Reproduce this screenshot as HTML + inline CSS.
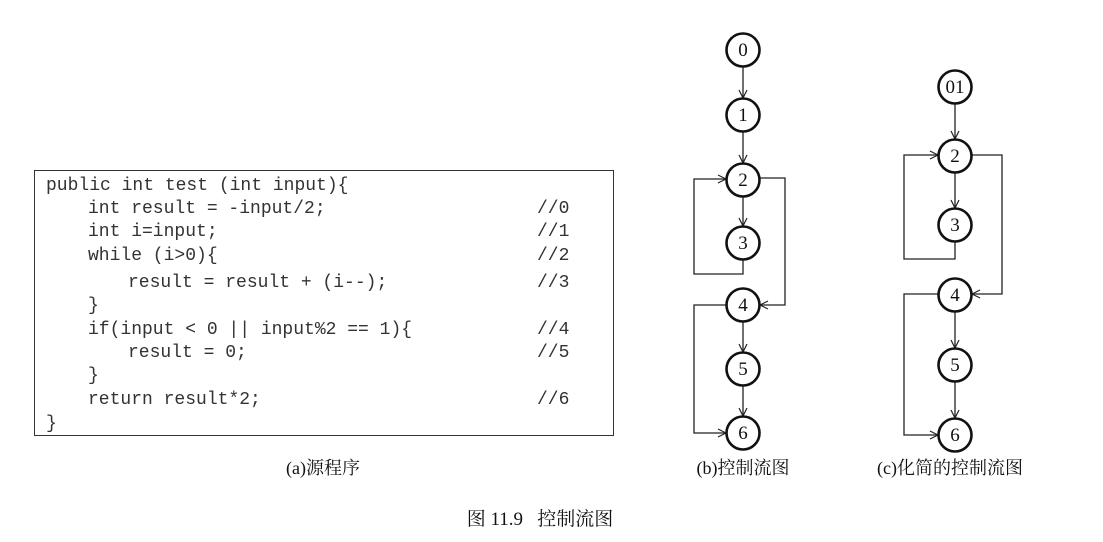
<!DOCTYPE html>
<html><head><meta charset="utf-8"><style>
body{margin:0;background:#fff;}
#w{position:relative;width:1103px;height:542px;overflow:hidden;background:#fff;}
.code{position:absolute;font-family:"Liberation Mono",monospace;font-size:18px;color:#333;white-space:pre;line-height:20px;}
.cap{position:absolute;font-family:"Liberation Serif","Noto Serif CJK SC",serif;font-size:18px;color:#111;white-space:nowrap;transform:translateX(-50%);}
</style></head><body><div id="w">
<div style="position:absolute;left:34px;top:170px;width:578px;height:264px;border:1.5px solid #333;"></div>
<div class="code" style="left:46px;top:176px">public int test (int input){</div>
<div class="code" style="left:88px;top:199px">int result = -input/2;</div>
<div class="code" style="left:88px;top:222px">int i=input;</div>
<div class="code" style="left:88px;top:246px">while (i&gt;0){</div>
<div class="code" style="left:128px;top:273px">result = result + (i--);</div>
<div class="code" style="left:88px;top:296px">}</div>
<div class="code" style="left:88px;top:320px">if(input &lt; 0 || input%2 == 1){</div>
<div class="code" style="left:128px;top:343px">result = 0;</div>
<div class="code" style="left:88px;top:366px">}</div>
<div class="code" style="left:88px;top:390px">return result*2;</div>
<div class="code" style="left:46px;top:414px">}</div>
<div class="code" style="left:537px;top:199px">//0</div>
<div class="code" style="left:537px;top:222px">//1</div>
<div class="code" style="left:537px;top:246px">//2</div>
<div class="code" style="left:537px;top:273px">//3</div>
<div class="code" style="left:537px;top:320px">//4</div>
<div class="code" style="left:537px;top:343px">//5</div>
<div class="code" style="left:537px;top:390px">//6</div>

<svg width="1103" height="542" style="position:absolute;left:0;top:0" font-family="Liberation Serif, serif" font-size="19">
<defs><marker id="a" markerWidth="10" markerHeight="10" refX="9" refY="5" orient="auto" markerUnits="userSpaceOnUse"><path d="M1,1 L9,5 L1,9" fill="none" stroke="#222" stroke-width="1.2"/></marker></defs>
<g stroke="#222" stroke-width="1.3" fill="none" marker-end="url(#a)">
<line x1="743" y1="67" x2="743" y2="98"/>
<line x1="743" y1="132" x2="743" y2="163"/>
<line x1="743" y1="197" x2="743" y2="226"/>
<line x1="743" y1="322" x2="743" y2="352"/>
<line x1="743" y1="386" x2="743" y2="416"/>
<polyline points="743,260 743,274 694,274 694,179 726,179"/>
<polyline points="760,178 785,178 785,305 760,305"/>
<polyline points="726,305 694,305 694,433 726,433"/>
<line x1="955" y1="104" x2="955" y2="139"/>
<line x1="955" y1="173" x2="955" y2="208"/>
<line x1="955" y1="312" x2="955" y2="348"/>
<line x1="955" y1="382" x2="955" y2="418"/>
<polyline points="955,242 955,259 904,259 904,155 938,155"/>
<polyline points="972,155 1002,155 1002,294 972,294"/>
<polyline points="938,294 904,294 904,435 938,435"/>
</g>
<g stroke="#111" stroke-width="2.6" fill="#fff">
<circle cx="743" cy="50" r="16.5"/><circle cx="743" cy="115" r="16.5"/><circle cx="743" cy="180" r="16.5"/>
<circle cx="743" cy="243" r="16.5"/><circle cx="743" cy="305" r="16.5"/><circle cx="743" cy="369" r="16.5"/><circle cx="743" cy="433" r="16.5"/>
<circle cx="955" cy="87" r="16.5"/><circle cx="955" cy="156" r="16.5"/><circle cx="955" cy="225" r="16.5"/>
<circle cx="955" cy="295" r="16.5"/><circle cx="955" cy="365" r="16.5"/><circle cx="955" cy="435" r="16.5"/>
</g>
<g fill="#111" text-anchor="middle">
<text x="743" y="56">0</text><text x="743" y="121">1</text><text x="743" y="186">2</text><text x="743" y="249">3</text>
<text x="743" y="311">4</text><text x="743" y="375">5</text><text x="743" y="439">6</text>
<text x="955" y="93">01</text><text x="955" y="162">2</text><text x="955" y="231">3</text>
<text x="955" y="301">4</text><text x="955" y="371">5</text><text x="955" y="441">6</text>
</g>
</svg>
<div class="cap" style="left:323px;top:454px">(a)源程序</div>
<div class="cap" style="left:743px;top:454px">(b)控制流图</div>
<div class="cap" style="left:950px;top:454px">(c)化简的控制流图</div>
<div class="cap" style="left:540px;top:504px;font-size:19px">图 11.9&nbsp;&nbsp;&nbsp;控制流图</div>
</div></body></html>
